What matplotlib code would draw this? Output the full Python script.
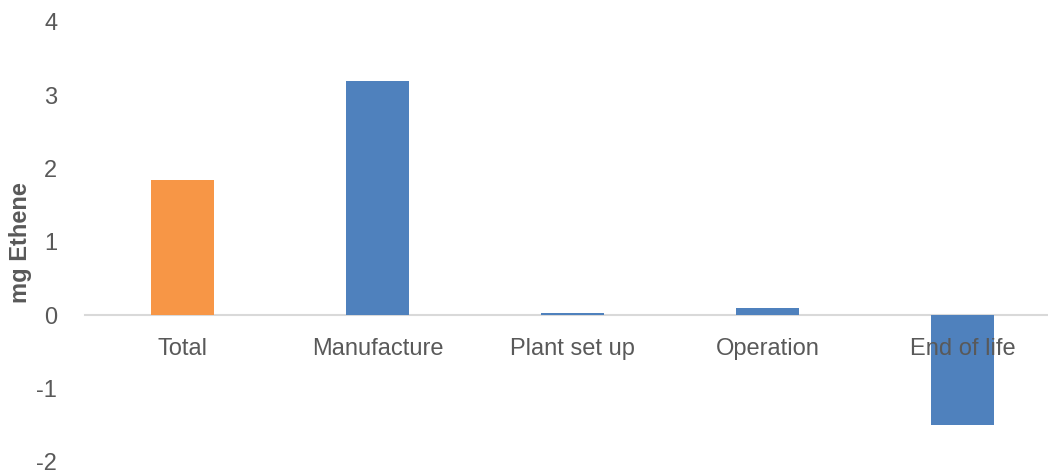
import matplotlib.pyplot as plt

plt.rcParams['font.family'] = ['Liberation Sans', 'DejaVu Sans']
plt.rcParams['axes.unicode_minus'] = False

categories = ["Total", "Manufacture", "Plant set up", "Operation", "End of life"]
values = [1.85, 3.2, 0.03, 0.1, -1.49]
colors = ["#F79646", "#4F81BD", "#4F81BD", "#4F81BD", "#4F81BD"]

fig = plt.figure(figsize=(10.48, 4.75), dpi=100)
ax = fig.add_axes([85 / 1048, 13 / 475, 975 / 1048, 440 / 475])

x = range(len(categories))
ax.bar(x, values, width=0.32, color=colors, zorder=1)

ax.set_xlim(-0.5, 4.5)
ax.set_ylim(-2, 4)
ax.set_yticks([-2, -1, 0, 1, 2, 3, 4])
ax.set_xticks(list(x))
ax.set_xticklabels(categories)

for s in ["top", "right", "left"]:
    ax.spines[s].set_visible(False)
ax.spines["bottom"].set_position(("data", 0))
ax.spines["bottom"].set_color("#D9D9D9")
ax.spines["bottom"].set_linewidth(1.5)
ax.spines["bottom"].set_zorder(0)

ax.tick_params(axis="both", length=0, labelsize=17, labelcolor="#595959")
ax.tick_params(axis="y", pad=20)
ax.tick_params(axis="x", pad=16)
for lbl in ax.get_xticklabels():
    lbl.set_zorder(5)

fig.text(21 / 1048, (475 - 243) / 475, "mg Ethene", rotation=90, ha="center", va="center",
         fontsize=17, fontweight="bold", color="#595959")

fig.savefig("out.png", dpi=100)
